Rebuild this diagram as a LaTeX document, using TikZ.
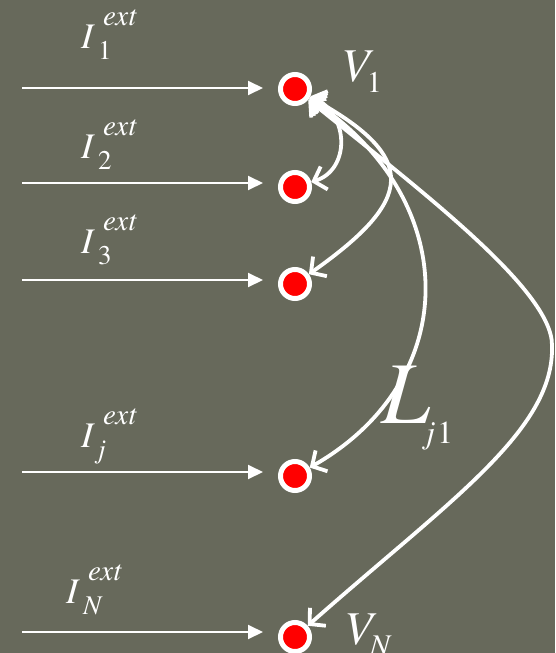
\documentclass[tikz,border=0pt]{standalone}
\usetikzlibrary{arrows.meta}
\definecolor{bg}{RGB}{103,105,91}
\definecolor{dotred}{RGB}{255,0,0}
\newcommand\tms[1]{\fontencoding{T1}\fontfamily{ptm}\fontsize{#1}{#1}\selectfont}
% I^{ext}_{#1}
\newcommand\Iext[1]{{\tms{36}\itshape I}%
  \rlap{\hspace{10pt}\raisebox{23pt}{\tms{29}\itshape ext}}%
  \hspace{5pt}\raisebox{-11pt}{\tms{27}#1}}
\newcommand\Vsub[1]{{\tms{47}\itshape V}%
  \hspace{-3pt}\raisebox{-11pt}{\tms{30}#1}}
\begin{document}
\begin{tikzpicture}[x=1pt,y=-1pt,
  dot/.style={circle,draw=white,line width=5pt,fill=dotred,minimum size=29pt,inner sep=0pt},
  inarrow/.style={white,line width=2pt,-{Triangle[length=15pt,width=14pt]},shorten >=15pt},
  link/.style={white,line width=3.8pt,line cap=round,
    {Straight Barb[length=11pt,width=24pt]}-{Straight Barb[length=11pt,width=24pt]}},
  lbl/.style={text=white,inner sep=0pt,anchor=base west}]
\fill[bg] (0,0) rectangle (555,653);
\useasboundingbox (0,0) rectangle (555,653);

% nodes
\node[dot] (V1) at (295,89) {};
\node[dot] (V2) at (295,187) {};
\node[dot] (V3) at (295,284) {};
\node[dot] (Vj) at (295,476) {};
\node[dot] (VN) at (295,637) {};

% external current arrows
\coordinate (s1) at (22,88);
\coordinate (s2) at (22,183);
\coordinate (s3) at (22,280);
\coordinate (sj) at (22,472);
\coordinate (sN) at (22,632);
\draw[inarrow] (s1) -- (s1 -| V1.west);
\draw[inarrow] (s2) -- (s2 -| V2.west);
\draw[inarrow] (s3) -- (s3 -| V3.west);
\draw[inarrow] (sj) -- (sj -| Vj.west);
\draw[inarrow] (sN) -- (sN -| VN.west);

% labels
\node[lbl] (I1) at (81,48) {\Iext{1}};
\node[lbl] (I2) at (81,158) {\Iext{2}};
\node[lbl] (I3) at (81,253) {\Iext{3}};
\node[lbl] (Ij) at (81,447) {\Iext{\itshape j}};
\node[lbl] (IN) at (66,603) {\Iext{\itshape N}};
\node[lbl] (V1l) at (341,81) {\Vsub{1}};
\node[lbl] (VNl) at (344,644) {\Vsub{\itshape N}};
\node[lbl] (L) at (381,423)
  {{\tms{88}\itshape L}\hspace{-4pt}\raisebox{-20pt}{\tms{32}{\itshape j}\hspace{2pt}1}};

% couplings
\coordinate (bend) at (552,345);
\draw[link] (V1) .. controls (350,115) and (350,170) .. (V2);
\draw[link] (V1) .. controls (420,158) and (414,200) .. (V3);
\draw[link] (V1) .. controls (463,200) and (463,380) .. (Vj);
\draw[link] (V1) .. controls (420,190) and (552,290) .. (bend)
  .. controls (555,430) and (450,500) .. (VN);
\end{tikzpicture}
\end{document}
